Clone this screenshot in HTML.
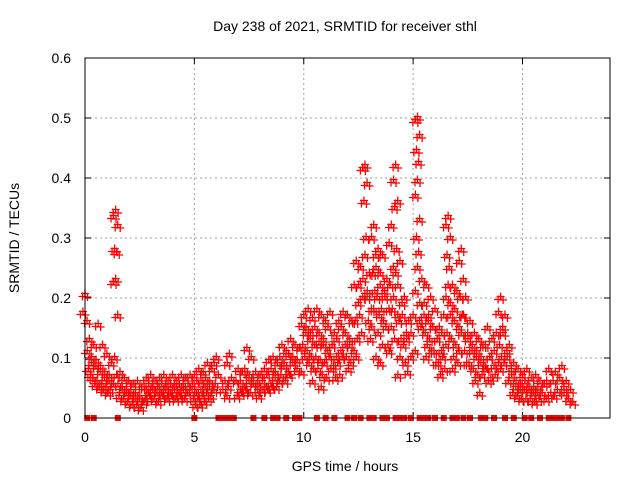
<!DOCTYPE html>
<html><head><meta charset="utf-8"><style>
body{margin:0;background:#fff}
svg text{font-family:"Liberation Sans",sans-serif;font-size:14px;fill:#000}
</style></head><body>
<svg id="chart" width="640" height="480" xmlns="http://www.w3.org/2000/svg">
<rect width="640" height="480" fill="#fff"/>
<text x="345" y="31" text-anchor="middle">Day 238 of 2021, SRMTID for receiver sthl</text>
<text transform="translate(19,238) rotate(-90)" text-anchor="middle">SRMTID / TECUs</text>
<text x="345" y="471" text-anchor="middle">GPS time / hours</text>
<g id="grid"></g>
<g id="ticks"></g>
<g id="pts"></g>
<g id="zeros"></g>
<rect x="85" y="58" width="525" height="360" fill="none" stroke="#000" stroke-width="1"/>
</svg>
<script>
const xTicks=[0,5,10,15,20];
const yTicks=[0,0.1,0.2,0.3,0.4,0.5,0.6];
const colHours=[0,0.2,0.4,0.6,0.8,1.0,1.2,1.4,1.6,1.8,2.0,2.2,2.4,2.6,2.8,3.0,3.2,3.4,3.6,3.8,4.0,4.2,4.4,4.6,4.8,5.0,5.2,5.4,5.6,5.8,6.0,6.4,6.6,7.0,7.2,7.4,7.6,7.8,8.0,8.2,8.4,8.6,8.8,9.0,9.2,9.4,9.6,9.8,10.0,10.2,10.4,10.6,10.8,11.0,11.2,11.4,11.6,11.8,12.0,12.2,12.4,12.6,12.8,13.0,13.2,13.4,13.6,13.8,14.0,14.2,14.4,14.6,14.8,15.0,15.2,15.4,15.6,15.8,16.0,16.2,16.4,16.6,16.8,17.0,17.2,17.4,17.6,17.8,18.0,18.2,18.4,18.6,18.8,19.0,19.2,19.4,19.6,19.8,20.0,20.2,20.4,20.6,20.8,21.0,21.2,21.5,21.8,22.0,22.2,22.4];
const colValues=[
[0.205,0.175,0.16],[0.13,0.11,0.09,0.08,0.07],[0.12,0.1,0.085,0.065,0.055],[0.155,0.095,0.075,0.06,0.05],[0.12,0.085,0.065,0.055,0.045],
[0.105,0.075,0.06,0.05,0.04],[0.09,0.07,0.055,0.045],[0.345,0.335,0.32,0.28,0.275,0.23,0.225,0.17,0.1,0.07],[0.075,0.055,0.045,0.035],[0.065,0.05,0.04,0.03],
[0.06,0.045,0.035,0.025],[0.055,0.045,0.03,0.02],[0.06,0.04,0.03,0.02],[0.05,0.035,0.025,0.015],[0.065,0.05,0.04,0.03],
[0.07,0.055,0.045,0.035],[0.06,0.05,0.04,0.03],[0.065,0.05,0.04,0.025],[0.07,0.055,0.045,0.035],[0.06,0.05,0.04,0.03],
[0.07,0.055,0.045,0.035],[0.06,0.05,0.04,0.03],[0.07,0.055,0.045,0.035],[0.065,0.05,0.04,0.03],[0.07,0.055,0.045],
[0.07,0.055,0.04,0.03,0.02],[0.08,0.06,0.045,0.03,0.02],[0.075,0.06,0.05,0.035,0.025],[0.09,0.065,0.05,0.04,0.03],[0.08,0.06,0.045,0.035],
[0.1,0.09,0.07,0.055],[0.06,0.045,0.035],[0.105,0.09,0.065,0.05],[0.08,0.06,0.045,0.035],[0.075,0.06,0.05,0.04],
[0.115,0.08,0.06,0.045],[0.1,0.07,0.055,0.04],[0.075,0.06,0.045],[0.07,0.055,0.045,0.035],[0.08,0.06,0.05],
[0.095,0.07,0.055,0.045],[0.1,0.08,0.065,0.05],[0.09,0.075,0.06,0.05],[0.12,0.1,0.085,0.07],[0.11,0.09,0.075,0.06],
[0.13,0.105,0.09,0.07],[0.12,0.1,0.08],[0.115,0.095,0.075],[0.17,0.155,0.14,0.12,0.1],[0.18,0.15,0.13,0.11,0.09],
[0.165,0.14,0.12,0.1,0.08,0.06],[0.18,0.15,0.125,0.1,0.08],[0.17,0.14,0.12,0.095,0.07,0.05],[0.16,0.13,0.11,0.09,0.065],[0.175,0.15,0.12,0.1,0.08],
[0.14,0.12,0.1,0.085,0.065],[0.16,0.13,0.11,0.09,0.07],[0.175,0.15,0.12,0.1],[0.17,0.14,0.12,0.1,0.08],[0.16,0.13,0.11,0.09],
[0.26,0.22,0.19,0.16,0.13,0.1],[0.25,0.22,0.2,0.17,0.14],[0.42,0.415,0.39,0.36,0.3,0.27,0.23,0.2],[0.24,0.21,0.18,0.16,0.13],[0.32,0.3,0.27,0.24,0.21,0.18,0.15],
[0.28,0.25,0.22,0.2,0.17,0.14,0.1],[0.27,0.24,0.21,0.18,0.16,0.12,0.09],[0.23,0.2,0.18,0.15,0.12],[0.32,0.29,0.25,0.22,0.18,0.15,0.11],[0.42,0.395,0.36,0.35,0.28,0.24,0.2,0.17,0.13],
[0.26,0.22,0.19,0.16,0.13,0.1,0.07],[0.2,0.17,0.14,0.12,0.09],[0.16,0.13,0.1,0.075],[0.17,0.14,0.11],[0.5,0.495,0.47,0.445,0.425,0.395,0.37,0.33,0.3,0.275,0.25,0.21,0.16],
[0.23,0.19,0.17,0.15],[0.22,0.19,0.16,0.14,0.12,0.1],[0.2,0.17,0.15,0.13,0.11],[0.18,0.15,0.13,0.11,0.09],[0.15,0.13,0.11,0.09,0.07],
[0.17,0.14,0.12,0.1,0.08],[0.335,0.32,0.3,0.27,0.25,0.22,0.2,0.17,0.14],[0.22,0.19,0.16,0.13,0.1,0.08],[0.21,0.18,0.15,0.12,0.09],[0.28,0.26,0.23,0.2,0.17,0.14,0.11],
[0.2,0.17,0.14,0.11,0.09],[0.16,0.13,0.11,0.09],[0.14,0.12,0.1,0.08,0.06],[0.13,0.11,0.09,0.07,0.04],[0.12,0.1,0.085,0.07],
[0.15,0.12,0.1,0.08,0.06],[0.13,0.1,0.085,0.065],[0.14,0.11,0.09,0.07],[0.2,0.175,0.15,0.12,0.1,0.08],[0.17,0.14,0.11,0.09],
[0.12,0.1,0.08,0.06],[0.09,0.07,0.05,0.04],[0.08,0.06,0.045,0.035],[0.07,0.055,0.045,0.03],[0.08,0.06,0.045,0.03],
[0.065,0.05,0.04,0.03],[0.07,0.05,0.04,0.025],[0.06,0.05,0.04,0.03],[0.055,0.04,0.03],[0.08,0.06,0.04],
[0.075,0.06,0.045,0.035],[0.085,0.065,0.05],[0.06,0.04,0.03],[0.045,0.03,0.025]];
const zeroHours=[0.1,0.4,1.5,5.0,6.1,6.3,6.5,6.7,6.8,7.7,8.2,8.6,8.8,9.2,9.6,9.8,10.6,11.0,11.4,12.0,12.3,12.6,13.0,13.2,13.6,13.8,14.2,14.4,14.6,14.9,15.3,15.5,15.7,16.0,16.4,16.8,17.0,17.3,17.6,18.1,18.3,18.7,19.2,19.6,20.1,20.4,20.8,21.2,21.4,21.6,21.8,22.1];
const NS="http://www.w3.org/2000/svg";
const X=h=>85+h*(525/24), Y=v=>418-v*600;
function mk(t,a){const e=document.createElementNS(NS,t);for(const k in a)e.setAttribute(k,a[k]);return e;}
const grid=document.getElementById('grid'),ticks=document.getElementById('ticks');
xTicks.forEach(t=>{const x=X(t);
 if(t>0){const g=mk('line',{x1:x,x2:x,y1:58,y2:418,stroke:'#a0a0a0','stroke-dasharray':'2,3'});grid.appendChild(g);}
 const tk=mk('path',{d:`M${x},418v-6M${x},58v6`,stroke:'#000'});ticks.appendChild(tk);
 const l=mk('text',{x:x,y:442,'text-anchor':'middle'});l.textContent=t;ticks.appendChild(l);});
yTicks.forEach(t=>{const y=Y(t);
 if(t>0&&t<0.6){const g=mk('line',{x1:85,x2:610,y1:y,y2:y,stroke:'#a0a0a0','stroke-dasharray':'2,3'});grid.appendChild(g);}
 const tk=mk('path',{d:`M85,${y}h6M610,${y}h-6`,stroke:'#000'});ticks.appendChild(tk);
 const l=mk('text',{x:71,y:y+5,'text-anchor':'end'});l.textContent=t===0?'0':t.toFixed(1);ticks.appendChild(l);});
const pts=document.getElementById('pts');let d='';
const jitter=[[-2.5,1.5],[0,-1.5],[2.5,2]];
colHours.forEach((h,i)=>{(colValues[i]||[]).forEach((v,j)=>{
 const off=[0,-1.6,1.6,-0.8,0.8][j%5]*0.06;const x0=X(h+off),y0=Y(v);
 jitter.forEach(([dx,dy])=>{const x=x0+dx,y=y0+dy;d+=`M${x-4},${y}h8M${x},${y-4}v8`;});});});
const p=mk('path',{d:d,stroke:'#f00','stroke-width':1.3,fill:'none'});


pts.appendChild(p);
const zs=document.getElementById('zeros');
zeroHours.forEach(h=>{const r=mk('rect',{x:X(h)-3,y:415,width:6,height:6,fill:'#f00'});
 
 
 zs.appendChild(r);});
</script>
</body></html>
